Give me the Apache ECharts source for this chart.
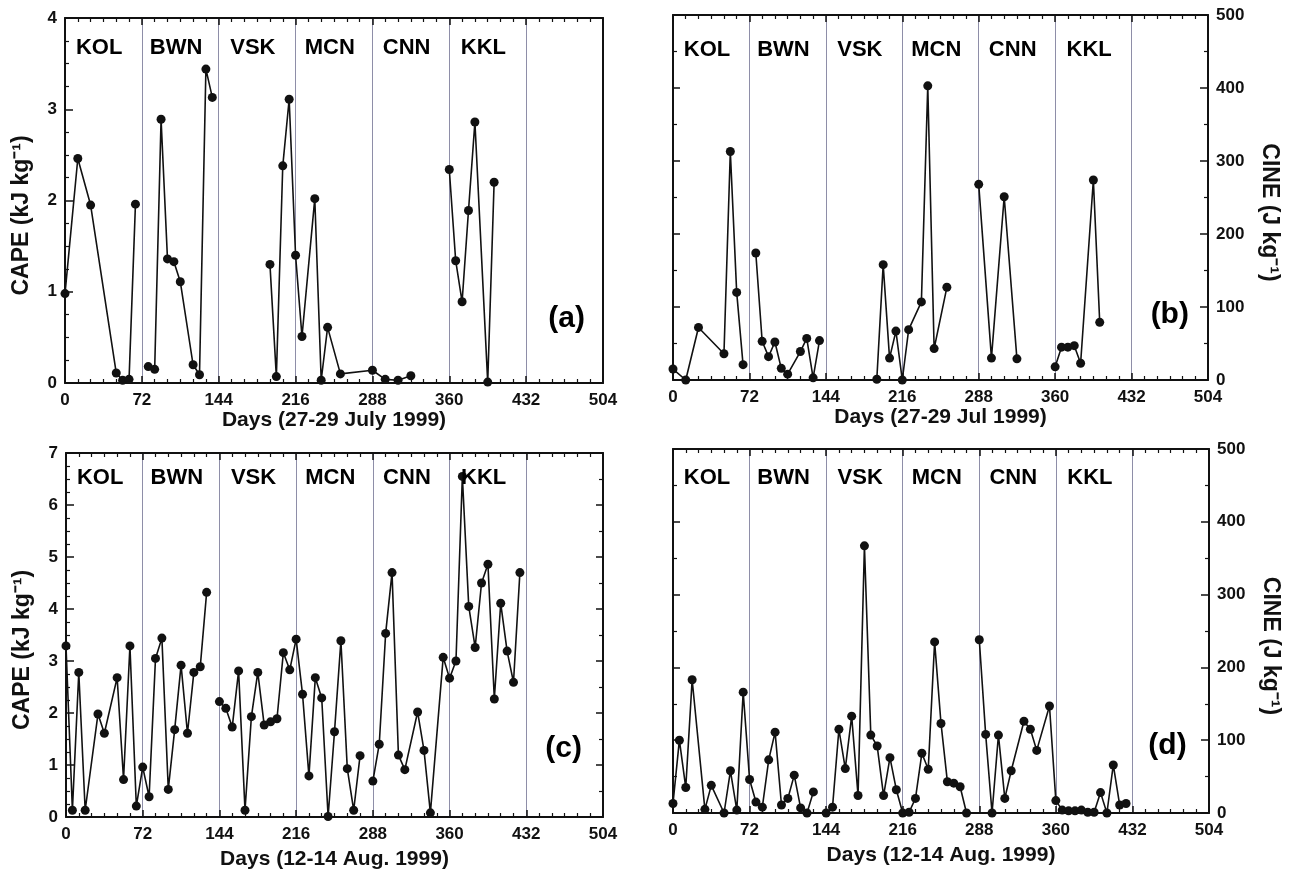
<!DOCTYPE html>
<html><head><meta charset="utf-8">
<script src="https://cdn.jsdelivr.net/npm/echarts@6/dist/echarts.min.js"></script>
<style>html,body{margin:0;padding:0;background:#fff}#c{width:1296px;height:874px}</style>
</head><body><div id="c"></div><script>
// ---- data ----
const xTicks = [0, 72, 144, 216, 288, 360, 432, 504];
const stations = ['KOL', 'BWN', 'VSK', 'MCN', 'CNN', 'KKL'];

// (a) CAPE 27-29 July 1999, segments
const hoursA = [
  [0, 12, 24, 48, 54, 60, 66],
  [78, 84, 90, 96, 102, 108, 120, 126, 132, 138],
  [192, 198, 204, 210, 216, 222, 234, 240, 246, 258, 288, 300, 312, 324],
  [360, 366, 372, 378, 384, 396, 402]
];
const capeA = [
  [0.98, 2.46, 1.95, 0.11, 0.03, 0.04, 1.96],
  [0.18, 0.15, 2.89, 1.36, 1.33, 1.11, 0.20, 0.09, 3.44, 3.13],
  [1.30, 0.07, 2.38, 3.11, 1.40, 0.51, 2.02, 0.03, 0.61, 0.10, 0.14, 0.04, 0.03, 0.08],
  [2.34, 1.34, 0.89, 1.89, 2.86, 0.01, 2.20]
];

// (b) CINE 27-29 July 1999
const hoursB = [
  [0, 12, 24, 48, 54, 60, 66],
  [78, 84, 90, 96, 102, 108, 120, 126, 132, 138],
  [192, 198, 204, 210, 216, 222, 234, 240, 246, 258],
  [288, 300, 312, 324],
  [360, 366, 372, 378, 384, 396, 402]
];
const cineB = [
  [15, 0, 72, 36, 313, 120, 21],
  [174, 53, 32, 52, 16, 8, 39, 57, 3, 54],
  [1, 158, 30, 67, 0, 69, 107, 403, 43, 127],
  [268, 30, 251, 29],
  [18, 45, 45, 47, 23, 274, 79]
];

// (c) CAPE 12-14 Aug 1999
const hoursC = [
  [0, 6, 12, 18, 30, 36, 48, 54, 60, 66, 72, 78, 84, 90, 96, 102, 108, 114, 120, 126, 132],
  [144, 150, 156, 162, 168, 174, 180, 186, 192, 198, 204, 210, 216, 222, 228, 234, 240, 246, 252, 258, 264, 270, 276],
  [288, 294, 300, 306, 312, 318, 330, 336, 342, 354, 360, 366, 372, 378, 384, 390, 396, 402, 408, 414, 420, 426]
];
const capeC = [
  [3.29, 0.13, 2.78, 0.13, 1.98, 1.61, 2.68, 0.72, 3.29, 0.21, 0.96, 0.39, 3.05, 3.44, 0.53, 1.68, 2.92, 1.61, 2.78, 2.89, 4.32],
  [2.22, 2.09, 1.73, 2.81, 0.13, 1.93, 2.78, 1.77, 1.83, 1.89, 3.16, 2.83, 3.42, 2.36, 0.79, 2.68, 2.29, 0.01, 1.64, 3.39, 0.93, 0.13, 1.18],
  [0.69, 1.40, 3.53, 4.70, 1.19, 0.91, 2.02, 1.28, 0.08, 3.07, 2.67, 3.00, 6.55, 4.05, 3.26, 4.50, 4.86, 2.27, 4.11, 3.19, 2.59, 4.70]
];

// (d) CINE 12-14 Aug 1999
const hoursD = hoursC;
const cineD = [
  [13, 100, 35, 183, 5, 38, 0, 58, 4, 166, 46, 15, 8, 73, 111, 11, 20, 52, 7, 0, 29],
  [0, 8, 115, 61, 133, 24, 367, 107, 92, 24, 76, 32, 0, 1, 20, 82, 60, 235, 123, 43, 41, 36, 0],
  [238, 108, 0, 107, 20, 58, 126, 115, 86, 147, 17, 4, 3, 3, 4, 1, 1, 28, 0, 66, 11, 13]
];

// ---- layout ----
const FONT = '"Liberation Sans", Arial, sans-serif';
const panels = [
  { grid: {left: 65, top: 18, width: 538, height: 365}, xName: 'Days (27-29 July 1999)', xGap: 27,
    yMax: 4, yInt: 1, ySplit: 4, side: 'left', yName: 'CAPE (kJ kg⁻¹)', otherTicks: 0, otherSplit: 1,
    letter: '(a)', letterPos: [470, 0.70], stY: 3.67, hours: hoursA, vals: capeA },
  { grid: {left: 673, top: 15, width: 535, height: 365}, xName: 'Days (27-29 Jul 1999)', xGap: 27,
    yMax: 500, yInt: 100, ySplit: 2, side: 'right', yName: 'CINE (J kg⁻¹)', otherTicks: 1, otherSplit: 2,
    letter: '(b)', letterPos: [468, 90], stY: 452, hours: hoursB, vals: cineB },
  { grid: {left: 66, top: 453, width: 537, height: 364}, xName: 'Days (12-14 Aug. 1999)', xGap: 32,
    yMax: 7, yInt: 1, ySplit: 4, side: 'left', yName: 'CAPE (kJ kg⁻¹)', otherTicks: 1, otherSplit: 2,
    letter: '(c)', letterPos: [467, 1.32], stY: 6.52, hours: hoursC, vals: capeC },
  { grid: {left: 673, top: 449, width: 536, height: 364}, xName: 'Days (12-14 Aug. 1999)', xGap: 32,
    yMax: 500, yInt: 100, ySplit: 2, side: 'right', yName: 'CINE (J kg⁻¹)', otherTicks: 1, otherSplit: 2,
    letter: '(d)', letterPos: [465, 92], stY: 460, hours: hoursD, vals: cineD }
];

const black = '#111';
const sepColor = '#8e8ea8';
const grids = [], xAxes = [], yAxes = [], series = [];

panels.forEach((p, i) => {
  grids.push(Object.assign({ outerBoundsMode: 'none', containLabel: false }, p.grid));
  const tickStyle = { show: true, inside: true, length: 7, lineStyle: { color: black, width: 1.5 } };
  const minor = (n) => ({ show: true, splitNumber: n, length: 4, lineStyle: { color: black, width: 1.2 } });
  const axisLine = { show: true, onZero: false, lineStyle: { color: black, width: 2 } };
  // bottom x
  xAxes.push({
    gridIndex: i, type: 'value', position: 'bottom', min: xTicks[0], max: xTicks[xTicks.length - 1], interval: 72,
    axisLine, axisTick: tickStyle, minorTick: minor(6),
    axisLabel: { show: true, color: black, fontFamily: FONT, fontWeight: 'bold', fontSize: 17, margin: 9,
      showMinLabel: true, showMaxLabel: true, hideOverlap: false },
    splitLine: { show: true, lineStyle: { color: sepColor, width: 1 } },
    name: p.xName, nameLocation: 'middle', nameGap: p.xGap,
    nameTextStyle: { color: black, fontFamily: FONT, fontWeight: 'bold', fontSize: 21 }
  });
  // top x
  xAxes.push({
    gridIndex: i, type: 'value', position: 'top', min: 0, max: 504, interval: 72,
    axisLine, axisTick: tickStyle, minorTick: minor(6), axisLabel: { show: false }, splitLine: { show: false }
  });
  const labeled = {
    gridIndex: i, type: 'value', position: p.side, min: 0, max: p.yMax, interval: p.yInt,
    axisLine, axisTick: Object.assign({}, tickStyle, { length: 8 }), minorTick: minor(p.ySplit),
    axisLabel: { show: true, color: black, fontFamily: FONT, fontWeight: 'bold', fontSize: 17, margin: 8,
      showMinLabel: true, showMaxLabel: true, hideOverlap: false },
    splitLine: { show: false },
    name: p.yName, nameLocation: 'middle', nameGap: p.side === 'left' ? 32 : 50,
    nameRotate: p.side === 'left' ? 90 : -90,
    nameTextStyle: { color: black, fontFamily: FONT, fontWeight: 'bold', fontSize: 23,
      padding: p.side === 'left' ? [0, 30, 0, 0] : [0, 0, 0, 30] }
  };
  const other = {
    gridIndex: i, type: 'value', position: p.side === 'left' ? 'right' : 'left', min: 0, max: p.yMax, interval: p.yInt,
    axisLine, axisTick: p.otherTicks ? tickStyle : { show: false },
    minorTick: p.otherTicks ? minor(p.otherSplit) : { show: false },
    axisLabel: { show: false }, splitLine: { show: false }
  };
  yAxes.push(labeled, other);

  p.hours.forEach((hs, k) => {
    series.push({
      type: 'line', xAxisIndex: 2 * i, yAxisIndex: 2 * i, z: 5,
      data: hs.map((h, j) => [h, p.vals[k][j]]),
      symbol: 'circle', symbolSize: 9, showAllSymbol: true,
      lineStyle: { color: black, width: 1.6 }, itemStyle: { color: black },
      emphasis: { disabled: true }, animation: false
    });
  });
  const textLabel = (size) => ({
    show: true, position: 'inside', formatter: (d) => d.value[2], color: '#000', opacity: 1,
    fontFamily: FONT, fontWeight: 'bold', fontSize: size, textBorderWidth: 0
  });
  // station labels
  series.push({
    type: 'scatter', xAxisIndex: 2 * i, yAxisIndex: 2 * i, symbolSize: 1, silent: true, z: 6,
    itemStyle: { color: 'rgba(0,0,0,0)', opacity: 1 },
    data: stations.map((s, k) => [xTicks[k] + 32, p.stY, s]),
    label: textLabel(22), emphasis: { disabled: true },
    animation: false
  });
  // panel letter
  series.push({
    type: 'scatter', xAxisIndex: 2 * i, yAxisIndex: 2 * i, symbolSize: 1, silent: true, z: 6,
    itemStyle: { color: 'rgba(0,0,0,0)', opacity: 1 },
    data: [[p.letterPos[0], p.letterPos[1], p.letter]],
    label: textLabel(30), emphasis: { disabled: true },
    animation: false
  });
});

const chart = echarts.init(document.getElementById('c'), null, { renderer: 'canvas' });
chart.setOption({
  backgroundColor: '#fff', animation: false,
  grid: grids, xAxis: xAxes, yAxis: yAxes, series
});
</script></body></html>
